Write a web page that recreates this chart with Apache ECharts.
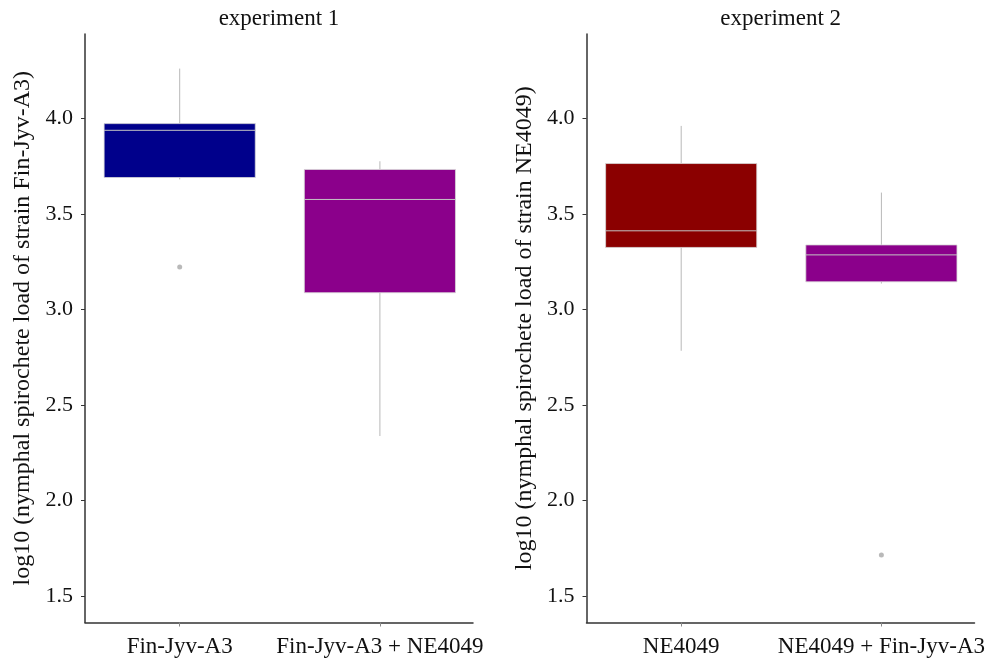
<!DOCTYPE html>
<html>
<head>
<meta charset="utf-8">
<title>Nymphal spirochete load</title>
<script src="https://cdn.jsdelivr.net/npm/echarts@6/dist/echarts.min.js"></script>
<style>
  html, body { margin: 0; padding: 0; background: #fff; }
  #chart { width: 989px; height: 662px; }
</style>
</head>
<body>
<div id="chart"></div>
<script>
// Experiment 1: load of strain Fin-Jyv-A3
const categories1 = ['Fin-Jyv-A3', 'Fin-Jyv-A3 + NE4049'];
// [lower whisker, Q1, median, Q3, upper whisker]
const boxes1 = [
  [3.68, 3.69, 3.937, 3.972, 4.26],
  [2.337, 3.087, 3.575, 3.732, 3.775]
];
const outliers1 = [[1, 3.222]];
const colors1 = ['#00008B', '#8B008B'];

// Experiment 2: load of strain NE4049
const categories2 = ['NE4049', 'NE4049 + Fin-Jyv-A3'];
const boxes2 = [
  [2.783, 3.324, 3.411, 3.763, 3.960],
  [3.135, 3.144, 3.285, 3.337, 3.611]
];
const outliers2 = [[2, 1.714]];
const colors2 = ['#8B0000', '#8B008B'];

const yTicks = [1.5, 2.0, 2.5, 3.0, 3.5, 4.0];
const titles = ['experiment 1', 'experiment 2'];
const yNames = [
  'log10 (nymphal spirochete load of strain Fin-Jyv-A3)',
  'log10 (nymphal spirochete load of strain NE4049)'
];

const FONT = 'Liberation Serif, Times New Roman, serif';
const STROKE = '#b8b8b8';
const BOX_FRACTION = 0.755;

function boxRenderer(colors) {
  return function (params, api) {
    const x = api.value(0);
    const lo = api.coord([x, api.value(1)]);
    const q1 = api.coord([x, api.value(2)]);
    const md = api.coord([x, api.value(3)]);
    const q3 = api.coord([x, api.value(4)]);
    const hi = api.coord([x, api.value(5)]);
    const w = api.size([BOX_FRACTION, 0])[0];
    const cx = lo[0];
    return {
      type: 'group',
      children: [
        { type: 'line', shape: { x1: cx, y1: lo[1], x2: cx, y2: q1[1] },
          style: { stroke: STROKE, lineWidth: 1 } },
        { type: 'line', shape: { x1: cx, y1: q3[1], x2: cx, y2: hi[1] },
          style: { stroke: STROKE, lineWidth: 1 } },
        { type: 'rect', shape: { x: cx - w / 2, y: q3[1], width: w, height: q1[1] - q3[1] },
          style: { fill: colors[params.dataIndex], stroke: '#d8d8d8', lineWidth: 0.8 } },
        { type: 'line', shape: { x1: cx - w / 2, y1: md[1], x2: cx + w / 2, y2: md[1] },
          style: { stroke: '#c4c4c4', lineWidth: 1 } }
      ]
    };
  };
}

function xAxisFor(gridIndex, cats) {
  return {
    type: 'value', gridIndex: gridIndex, min: 0.527, max: 2.465,
    axisLine: { show: true, lineStyle: { color: '#333', width: 1.5 } },
    axisTick: { show: true, customValues: [1, 2], length: 4, lineStyle: { color: '#888' } },
    axisLabel: {
      customValues: [1, 2], margin: 13,
      formatter: function (v) { return cats[Math.round(v) - 1]; },
      fontFamily: FONT, fontSize: 23, color: '#111'
    },
    splitLine: { show: false }
  };
}

function yAxisFor(gridIndex, name) {
  return {
    type: 'value', gridIndex: gridIndex, min: 1.361, max: 4.441,
    name: name, nameLocation: 'middle', nameGap: 50,
    nameTextStyle: { fontFamily: FONT, fontSize: 24, color: '#111' },
    axisLine: { show: true, lineStyle: { color: '#333', width: 1.5 } },
    axisTick: { show: true, customValues: yTicks, length: 4, lineStyle: { color: '#333' } },
    axisLabel: {
      customValues: yTicks, margin: 12,
      formatter: function (v) { return v.toFixed(1); },
      fontFamily: FONT, fontSize: 22, color: '#111'
    },
    splitLine: { show: false }
  };
}

function boxData(boxes) {
  return boxes.map(function (b, i) { return [i + 1].concat(b); });
}

const chart = echarts.init(document.getElementById('chart'), null, { renderer: 'canvas' });
chart.setOption({
  backgroundColor: '#fff',
  animation: false,
  graphic: [
    { type: 'text', x: 279, y: 19,
      style: { text: titles[0], textAlign: 'center', textVerticalAlign: 'middle',
               fontFamily: FONT, fontSize: 23, fill: '#111' } },
    { type: 'text', x: 780.7, y: 19,
      style: { text: titles[1], textAlign: 'center', textVerticalAlign: 'middle',
               fontFamily: FONT, fontSize: 23, fill: '#111' } }
  ],
  grid: [
    { left: 85, top: 34, width: 388, height: 588.5 },
    { left: 586.5, top: 34, width: 388, height: 588.5 }
  ],
  xAxis: [xAxisFor(0, categories1), xAxisFor(1, categories2)],
  yAxis: [yAxisFor(0, yNames[0]), yAxisFor(1, yNames[1])],
  series: [
    { type: 'custom', xAxisIndex: 0, yAxisIndex: 0, renderItem: boxRenderer(colors1),
      encode: { x: 0, y: [1, 2, 3, 4, 5] }, data: boxData(boxes1), silent: true },
    { type: 'scatter', xAxisIndex: 0, yAxisIndex: 0, data: outliers1,
      symbolSize: 5, itemStyle: { color: '#a8a8a8' }, silent: true },
    { type: 'custom', xAxisIndex: 1, yAxisIndex: 1, renderItem: boxRenderer(colors2),
      encode: { x: 0, y: [1, 2, 3, 4, 5] }, data: boxData(boxes2), silent: true },
    { type: 'scatter', xAxisIndex: 1, yAxisIndex: 1, data: outliers2,
      symbolSize: 5, itemStyle: { color: '#a8a8a8' }, silent: true }
  ]
});
</script>
</body>
</html>
